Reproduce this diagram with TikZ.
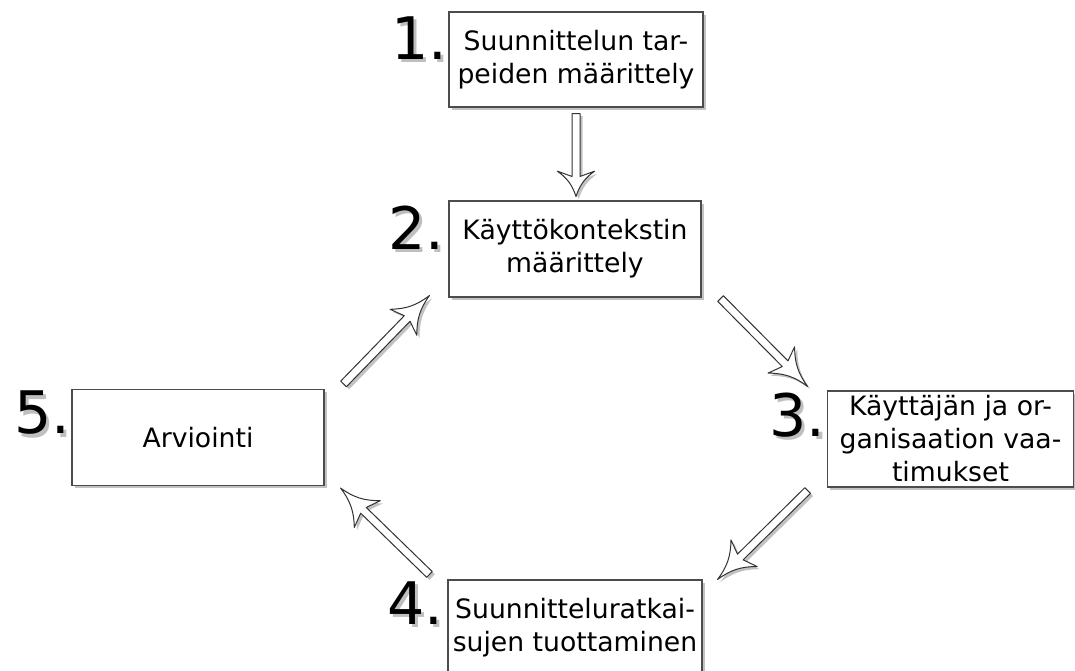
\documentclass[tikz,border=0pt]{standalone}
\usepackage{fontspec}
\setmainfont{DejaVu Sans}
\usetikzlibrary{calc,shadows}

\tikzset{
  box/.style={draw=black!70, line width=0.8pt, fill=white, inner sep=0pt, align=center,
    minimum width=190pt, minimum height=72pt, font=\fontsize{20}{24.75}\selectfont,
    drop shadow={shadow xshift=2pt, shadow yshift=-2pt, opacity=0.4, fill=black!60}},
  numlabel/.style={inner sep=0pt, anchor=base east, font=\fontsize{44}{44}\selectfont},
  hollow/.style={draw=black!80, line width=0.75pt, fill=white, line join=round,
    drop shadow={shadow xshift=2pt, shadow yshift=-2pt, opacity=0.4, fill=black!60}}
}

% gray copy behind the digit
\newcommand{\shadownum}[1]{\rlap{\kern2.5pt\raisebox{-2.5pt}{\textcolor{black!25}{#1}}}#1}

% open arrow with barbed head: [head length]{start}{tip}
\newcommand{\hollowarrow}[3][28pt]{%
  \path ($(#3)!#1!(#2)$) coordinate (ha-b)
        ($(#3)!#1-4pt!(#2)$) coordinate (ha-n);
  \draw[hollow] ($(#2)!3pt!90:(#3)$) -- ($(ha-n)!3pt!90:(#3)$)
    -- ($(ha-b)!14pt!90:(#3)$) to[bend right=18] (#3)
    to[bend right=18] ($(ha-b)!14pt!-90:(#3)$)
    -- ($(ha-n)!3pt!-90:(#3)$) -- ($(#2)!3pt!-90:(#3)$) -- cycle;
}

\begin{document}
\begin{tikzpicture}[x=0.75pt,y=0.75pt,yscale=-1]
\useasboundingbox (0,0) rectangle (1075,671);
\clip (0,0) rectangle (1075,671);

% steps
\node[box, minimum width=190.5pt, minimum height=71.25pt] (b1) at (576,59.5) {Suunnittelun tar-\\peiden määrittely};
\node[box, minimum width=189pt] (b2) at (575,249) {Käyttökontekstin\\määrittely};
\node[box, minimum width=185pt] (b3) at (950.5,439) {Käyttäjän ja or-\\ganisaation vaa-\\timukset};
\node[box, minimum width=190.5pt] (b4) at (575,628) {Suunnitteluratkai-\\sujen tuottaminen};
\node[box, minimum width=189pt] (b5) at (198,437.5) {Arviointi};

% numbers
\node[numlabel] (n1) at ($(b1.north west)+(-1,48)$) {\shadownum{1.}};
\node[numlabel] (n2) at ($(b2.north west)+(-4,49)$) {\shadownum{2.}};
\node[numlabel] (n3) at ($(b3.north west)+(-1,46)$) {\shadownum{3.}};
\node[numlabel] (n4) at ($(b4.north west)+(-4,45)$) {\shadownum{4.}};
\node[numlabel] (n5) at ($(b5.north west)+(-1,45)$) {\shadownum{5.}};

% arrow ends
\coordinate (a12s) at ($(b1.south)+(0,6)$);
\coordinate (a12e) at ($(b2.north)+(1,-4)$);
\coordinate (a23s) at ($(b2.south east)+(19,1)$);
\coordinate (a23e) at ($(b3.north west)+(-19,-4)$);
\coordinate (a34s) at ($(b3.south west)+(-19,3)$);
\coordinate (a34e) at ($(b4.north east)+(15,0)$);
\coordinate (a45s) at ($(b4.north west)+(-18,-5)$);
\coordinate (a45e) at ($(b5.south east)+(16,2)$);
\coordinate (a52s) at ($(b5.north east)+(19,-5)$);
\coordinate (a52e) at ($(b2.south west)+(-19,-2)$);

\hollowarrow[19pt]{a12s}{a12e}
\hollowarrow{a23s}{a23e}
\hollowarrow{a34s}{a34e}
\hollowarrow{a45s}{a45e}
\hollowarrow{a52s}{a52e}
\end{tikzpicture}
\end{document}
